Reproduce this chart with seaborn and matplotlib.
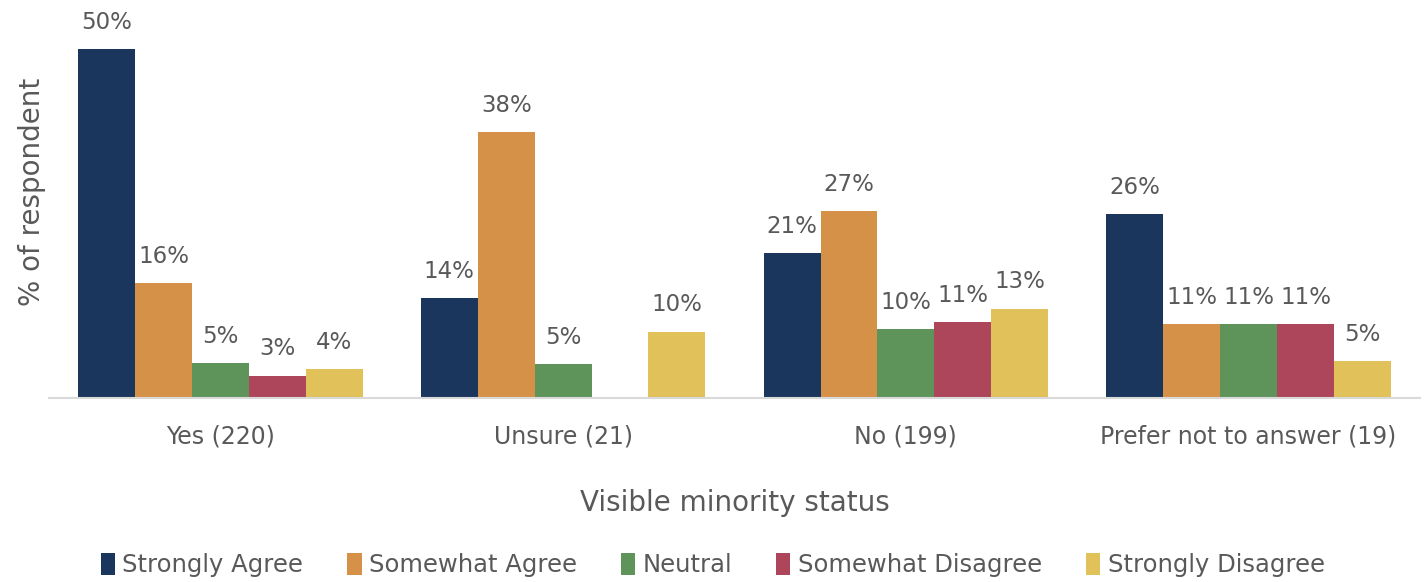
import matplotlib
matplotlib.use("Agg")
import matplotlib.pyplot as plt
import seaborn as sns
import pandas as pd
import numpy as np

groups = ["Yes (220)", "Unsure (21)", "No (199)", "Prefer not to answer (19)"]
responses = ["Strongly Agree", "Somewhat Agree", "Neutral", "Somewhat Disagree", "Strongly Disagree"]
strongly_agree = [50.0, 14.3, 20.8, 26.3]
somewhat_agree = [16.4, 38.1, 26.8, 10.6]
neutral = [5.0, 4.8, 9.9, 10.6]
somewhat_disagree = [3.2, 0.0, 10.9, 10.6]
strongly_disagree = [4.1, 9.5, 12.8, 5.3]
colors = ["#1B365D", "#D69148", "#5E9459", "#AD465A", "#E0C15A"]

series = [strongly_agree, somewhat_agree, neutral, somewhat_disagree, strongly_disagree]
rows = []
for resp, vals in zip(responses, series):
    for g, v in zip(groups, vals):
        rows.append({"group": g, "response": resp, "value": v})
df = pd.DataFrame(rows)

sns.set_style("white")
plt.rcParams["font.family"] = ["DejaVu Sans"]
text_color = "#595959"

fig = plt.figure(figsize=(14.25, 5.82), dpi=100)
ax = fig.add_axes([49/1425, 1 - 398/582, (1420-49)/1425, (398-14)/582])

sns.barplot(data=df, x="group", y="value", hue="response", order=groups,
            hue_order=responses, palette=colors, width=0.83, ax=ax,
            saturation=1, legend=True, linewidth=0)

for cont in ax.containers:
    labels = [f"{round(b.get_height()):d}%" if b.get_height() > 0 else "" for b in cont]
    ax.bar_label(cont, labels=labels, padding=11, fontsize=16.5, color=text_color)

ax.set_xlim(-0.5, 3.5)
ax.set_ylim(0, 55)
ax.set_yticks([])
for s in ["top", "right", "left"]:
    ax.spines[s].set_visible(False)
ax.spines["bottom"].set_color("#D9D9D9")
ax.spines["bottom"].set_linewidth(1.5)
ax.tick_params(axis="x", length=0, labelsize=17, labelcolor=text_color, pad=19)
ax.set_xlabel("Visible minority status", fontsize=20, color=text_color, labelpad=29)
ax.set_ylabel("% of respondent", fontsize=20, color=text_color)
ax.yaxis.set_label_coords(-0.002, 0.536)

handles, labels = ax.get_legend_handles_labels()
ax.get_legend().remove()
fig.legend(handles, labels, loc="center", bbox_to_anchor=(0.5, 1 - 565/582), ncol=5,
           frameon=False, fontsize=17.5, labelcolor=text_color, handlelength=0.6,
           handleheight=1.0, handletextpad=0.3, columnspacing=1.8)

fig.savefig("out.png", dpi=100)
